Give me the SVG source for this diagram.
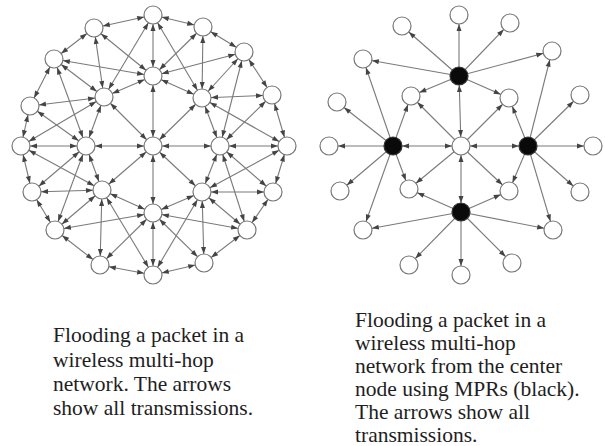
<svg xmlns="http://www.w3.org/2000/svg" width="605" height="446" viewBox="0 0 605 446">
<style>
.e{stroke:#7a7a7a;stroke-width:1.1;fill:none}
.bi{marker-start:url(#ah);marker-end:url(#ah)}
.uni{marker-end:url(#ah)}
.n circle{fill:#fff;stroke:#777;stroke-width:1.2}
.m circle{fill:#0a0a0a;stroke:#333;stroke-width:1.2}
text{font-family:"Liberation Serif","Times New Roman",serif;font-size:21.5px;fill:#1e1e1e}
</style>
<defs>
<marker id="ah" viewBox="0 0 7 5" refX="16" refY="2.5" markerWidth="7" markerHeight="5" markerUnits="userSpaceOnUse" orient="auto-start-reverse" overflow="visible"><path d="M0,0L7,2.5L0,5z" fill="#444"/></marker>
</defs>
<rect width="605" height="446" fill="#fff"/>
<g id="connectors-left" class="e">
<line class="bi" x1="153" y1="146" x2="220" y2="146"/>
<line class="bi" x1="153" y1="146" x2="202" y2="192"/>
<line class="bi" x1="153" y1="146" x2="153" y2="213"/>
<line class="bi" x1="153" y1="146" x2="102" y2="190"/>
<line class="bi" x1="153" y1="146" x2="86" y2="146"/>
<line class="bi" x1="153" y1="146" x2="104" y2="97"/>
<line class="bi" x1="153" y1="146" x2="153" y2="76"/>
<line class="bi" x1="153" y1="146" x2="202" y2="98"/>
<line class="bi" x1="220" y1="146" x2="202" y2="192"/>
<line class="bi" x1="202" y1="192" x2="153" y2="213"/>
<line class="bi" x1="153" y1="213" x2="102" y2="190"/>
<line class="bi" x1="102" y1="190" x2="86" y2="146"/>
<line class="bi" x1="86" y1="146" x2="104" y2="97"/>
<line class="bi" x1="104" y1="97" x2="153" y2="76"/>
<line class="bi" x1="153" y1="76" x2="202" y2="98"/>
<line class="bi" x1="202" y1="98" x2="220" y2="146"/>
<line class="bi" x1="287" y1="146" x2="273" y2="192"/>
<line class="bi" x1="273" y1="192" x2="247" y2="230"/>
<line class="bi" x1="247" y1="230" x2="204" y2="263"/>
<line class="bi" x1="204" y1="263" x2="153" y2="275"/>
<line class="bi" x1="153" y1="275" x2="100" y2="265"/>
<line class="bi" x1="100" y1="265" x2="55" y2="230"/>
<line class="bi" x1="55" y1="230" x2="32" y2="192"/>
<line class="bi" x1="32" y1="192" x2="21" y2="146"/>
<line class="bi" x1="21" y1="146" x2="30" y2="106"/>
<line class="bi" x1="30" y1="106" x2="54" y2="59"/>
<line class="bi" x1="54" y1="59" x2="94" y2="28"/>
<line class="bi" x1="94" y1="28" x2="153" y2="15"/>
<line class="bi" x1="153" y1="15" x2="203" y2="27"/>
<line class="bi" x1="203" y1="27" x2="244" y2="52"/>
<line class="bi" x1="244" y1="52" x2="272" y2="95"/>
<line class="bi" x1="272" y1="95" x2="287" y2="146"/>
<line class="bi" x1="220" y1="146" x2="244" y2="52"/>
<line class="bi" x1="220" y1="146" x2="272" y2="95"/>
<line class="bi" x1="220" y1="146" x2="287" y2="146"/>
<line class="bi" x1="220" y1="146" x2="273" y2="192"/>
<line class="bi" x1="220" y1="146" x2="247" y2="230"/>
<line class="bi" x1="202" y1="192" x2="287" y2="146"/>
<line class="bi" x1="202" y1="192" x2="273" y2="192"/>
<line class="bi" x1="202" y1="192" x2="247" y2="230"/>
<line class="bi" x1="202" y1="192" x2="204" y2="263"/>
<line class="bi" x1="202" y1="192" x2="153" y2="275"/>
<line class="bi" x1="153" y1="213" x2="247" y2="230"/>
<line class="bi" x1="153" y1="213" x2="204" y2="263"/>
<line class="bi" x1="153" y1="213" x2="153" y2="275"/>
<line class="bi" x1="153" y1="213" x2="100" y2="265"/>
<line class="bi" x1="153" y1="213" x2="55" y2="230"/>
<line class="bi" x1="102" y1="190" x2="153" y2="275"/>
<line class="bi" x1="102" y1="190" x2="100" y2="265"/>
<line class="bi" x1="102" y1="190" x2="55" y2="230"/>
<line class="bi" x1="102" y1="190" x2="32" y2="192"/>
<line class="bi" x1="102" y1="190" x2="21" y2="146"/>
<line class="bi" x1="86" y1="146" x2="55" y2="230"/>
<line class="bi" x1="86" y1="146" x2="32" y2="192"/>
<line class="bi" x1="86" y1="146" x2="21" y2="146"/>
<line class="bi" x1="86" y1="146" x2="30" y2="106"/>
<line class="bi" x1="86" y1="146" x2="54" y2="59"/>
<line class="bi" x1="104" y1="97" x2="21" y2="146"/>
<line class="bi" x1="104" y1="97" x2="30" y2="106"/>
<line class="bi" x1="104" y1="97" x2="54" y2="59"/>
<line class="bi" x1="104" y1="97" x2="94" y2="28"/>
<line class="bi" x1="104" y1="97" x2="153" y2="15"/>
<line class="bi" x1="153" y1="76" x2="54" y2="59"/>
<line class="bi" x1="153" y1="76" x2="94" y2="28"/>
<line class="bi" x1="153" y1="76" x2="153" y2="15"/>
<line class="bi" x1="153" y1="76" x2="203" y2="27"/>
<line class="bi" x1="153" y1="76" x2="244" y2="52"/>
<line class="bi" x1="202" y1="98" x2="153" y2="15"/>
<line class="bi" x1="202" y1="98" x2="203" y2="27"/>
<line class="bi" x1="202" y1="98" x2="244" y2="52"/>
<line class="bi" x1="202" y1="98" x2="272" y2="95"/>
<line class="bi" x1="202" y1="98" x2="287" y2="146"/>
</g>
<g id="connectors-right" class="e">
<line class="bi" x1="461" y1="146" x2="459" y2="76"/>
<line class="bi" x1="461" y1="146" x2="393" y2="146"/>
<line class="bi" x1="461" y1="146" x2="528" y2="146"/>
<line class="bi" x1="461" y1="146" x2="461" y2="212"/>
<line class="uni" x1="461" y1="146" x2="411" y2="96"/>
<line class="uni" x1="461" y1="146" x2="509" y2="98"/>
<line class="uni" x1="461" y1="146" x2="409" y2="189"/>
<line class="uni" x1="461" y1="146" x2="509" y2="191"/>
<line class="uni" x1="459" y1="76" x2="411" y2="96"/>
<line class="uni" x1="459" y1="76" x2="509" y2="98"/>
<line class="uni" x1="393" y1="146" x2="411" y2="96"/>
<line class="uni" x1="393" y1="146" x2="409" y2="189"/>
<line class="uni" x1="528" y1="146" x2="509" y2="98"/>
<line class="uni" x1="528" y1="146" x2="509" y2="191"/>
<line class="uni" x1="461" y1="212" x2="409" y2="189"/>
<line class="uni" x1="461" y1="212" x2="509" y2="191"/>
<line class="uni" x1="459" y1="76" x2="363" y2="59"/>
<line class="uni" x1="459" y1="76" x2="402" y2="26"/>
<line class="uni" x1="459" y1="76" x2="459" y2="15"/>
<line class="uni" x1="459" y1="76" x2="510" y2="23"/>
<line class="uni" x1="459" y1="76" x2="552" y2="51"/>
<line class="uni" x1="528" y1="146" x2="552" y2="51"/>
<line class="uni" x1="528" y1="146" x2="580" y2="95"/>
<line class="uni" x1="528" y1="146" x2="593" y2="146"/>
<line class="uni" x1="528" y1="146" x2="580" y2="192"/>
<line class="uni" x1="528" y1="146" x2="553" y2="230"/>
<line class="uni" x1="461" y1="212" x2="553" y2="230"/>
<line class="uni" x1="461" y1="212" x2="512" y2="263"/>
<line class="uni" x1="461" y1="212" x2="461" y2="275"/>
<line class="uni" x1="461" y1="212" x2="409" y2="265"/>
<line class="uni" x1="461" y1="212" x2="363" y2="230"/>
<line class="uni" x1="393" y1="146" x2="363" y2="230"/>
<line class="uni" x1="393" y1="146" x2="340" y2="191"/>
<line class="uni" x1="393" y1="146" x2="329" y2="146"/>
<line class="uni" x1="393" y1="146" x2="337" y2="102"/>
<line class="uni" x1="393" y1="146" x2="363" y2="59"/>
</g>
<g id="L-c" class="n"><circle cx="153" cy="146" r="9"/></g>
<g id="L-i0" class="n"><circle cx="220" cy="146" r="9"/></g>
<g id="L-i1" class="n"><circle cx="202" cy="192" r="9"/></g>
<g id="L-i2" class="n"><circle cx="153" cy="213" r="9"/></g>
<g id="L-i3" class="n"><circle cx="102" cy="190" r="9"/></g>
<g id="L-i4" class="n"><circle cx="86" cy="146" r="9"/></g>
<g id="L-i5" class="n"><circle cx="104" cy="97" r="9"/></g>
<g id="L-i6" class="n"><circle cx="153" cy="76" r="9"/></g>
<g id="L-i7" class="n"><circle cx="202" cy="98" r="9"/></g>
<g id="L-o0" class="n"><circle cx="287" cy="146" r="9"/></g>
<g id="L-o1" class="n"><circle cx="273" cy="192" r="9"/></g>
<g id="L-o2" class="n"><circle cx="247" cy="230" r="9"/></g>
<g id="L-o3" class="n"><circle cx="204" cy="263" r="9"/></g>
<g id="L-o4" class="n"><circle cx="153" cy="275" r="9"/></g>
<g id="L-o5" class="n"><circle cx="100" cy="265" r="9"/></g>
<g id="L-o6" class="n"><circle cx="55" cy="230" r="9"/></g>
<g id="L-o7" class="n"><circle cx="32" cy="192" r="9"/></g>
<g id="L-o8" class="n"><circle cx="21" cy="146" r="9"/></g>
<g id="L-o9" class="n"><circle cx="30" cy="106" r="9"/></g>
<g id="L-o10" class="n"><circle cx="54" cy="59" r="9"/></g>
<g id="L-o11" class="n"><circle cx="94" cy="28" r="9"/></g>
<g id="L-o12" class="n"><circle cx="153" cy="15" r="9"/></g>
<g id="L-o13" class="n"><circle cx="203" cy="27" r="9"/></g>
<g id="L-o14" class="n"><circle cx="244" cy="52" r="9"/></g>
<g id="L-o15" class="n"><circle cx="272" cy="95" r="9"/></g>
<g id="R-c" class="n"><circle cx="461" cy="146" r="9"/></g>
<g id="R-mpr-top" class="m"><circle cx="459" cy="76" r="9"/></g>
<g id="R-mpr-left" class="m"><circle cx="393" cy="146" r="9"/></g>
<g id="R-mpr-right" class="m"><circle cx="528" cy="146" r="9"/></g>
<g id="R-mpr-bottom" class="m"><circle cx="461" cy="212" r="9"/></g>
<g id="R-w-ul" class="n"><circle cx="411" cy="96" r="9"/></g>
<g id="R-w-ur" class="n"><circle cx="509" cy="98" r="9"/></g>
<g id="R-w-dl" class="n"><circle cx="409" cy="189" r="9"/></g>
<g id="R-w-dr" class="n"><circle cx="509" cy="191" r="9"/></g>
<g id="R-o0" class="n"><circle cx="593" cy="146" r="9"/></g>
<g id="R-o1" class="n"><circle cx="580" cy="192" r="9"/></g>
<g id="R-o2" class="n"><circle cx="553" cy="230" r="9"/></g>
<g id="R-o3" class="n"><circle cx="512" cy="263" r="9"/></g>
<g id="R-o4" class="n"><circle cx="461" cy="275" r="9"/></g>
<g id="R-o5" class="n"><circle cx="409" cy="265" r="9"/></g>
<g id="R-o6" class="n"><circle cx="363" cy="230" r="9"/></g>
<g id="R-o7" class="n"><circle cx="340" cy="191" r="9"/></g>
<g id="R-o8" class="n"><circle cx="329" cy="146" r="9"/></g>
<g id="R-o9" class="n"><circle cx="337" cy="102" r="9"/></g>
<g id="R-o10" class="n"><circle cx="363" cy="59" r="9"/></g>
<g id="R-o11" class="n"><circle cx="402" cy="26" r="9"/></g>
<g id="R-o12" class="n"><circle cx="459" cy="15" r="9"/></g>
<g id="R-o13" class="n"><circle cx="510" cy="23" r="9"/></g>
<g id="R-o14" class="n"><circle cx="552" cy="51" r="9"/></g>
<g id="R-o15" class="n"><circle cx="580" cy="95" r="9"/></g>
<g id="caption-left">
<text x="53" y="342">Flooding a packet in a</text>
<text x="53" y="366.5">wireless multi-hop</text>
<text x="53" y="391">network. The arrows</text>
<text x="53" y="415">show all transmissions.</text>
</g>
<g id="caption-right">
<text x="355" y="327">Flooding a packet in a</text>
<text x="355" y="350">wireless multi-hop</text>
<text x="355" y="373">network from the center</text>
<text x="355" y="396">node using MPRs (black).</text>
<text x="355" y="419">The arrows show all</text>
<text x="355" y="442">transmissions.</text>
</g>
</svg>
